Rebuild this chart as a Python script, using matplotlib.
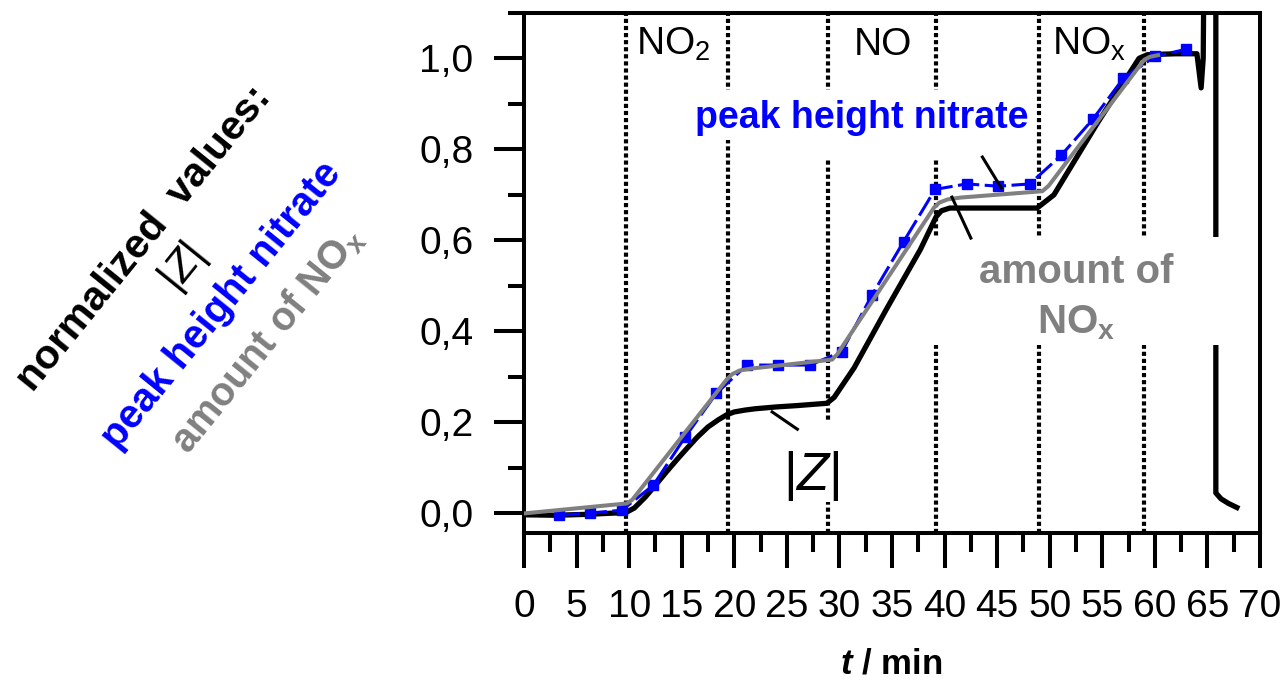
import matplotlib
matplotlib.use("Agg")
import matplotlib.pyplot as plt
from matplotlib.ticker import MultipleLocator, FuncFormatter
from matplotlib.patches import Rectangle

plt.rcParams["font.family"] = "Liberation Sans"
plt.rcParams["mathtext.fontset"] = "custom"
plt.rcParams["mathtext.rm"] = "Liberation Sans"
plt.rcParams["mathtext.it"] = "Liberation Sans:italic"
plt.rcParams["mathtext.bf"] = "Liberation Sans:bold"
plt.rcParams["mathtext.bfit"] = "Liberation Sans:italic:bold"

# --- data -------------------------------------------------------------------
# |Z| (black trace)
z_t = [0, 3, 6, 9.7, 10.5, 11.5, 12.5, 13.5, 14.5, 15.5, 16.5, 17.5, 18.5, 19.3,
       20.0, 21, 22, 24, 26, 28.8, 29.5, 31.4, 34.5, 37.7, 39.2, 39.7, 40.5, 44,
       48.8, 50.4, 54.6, 58.5, 59.3, 62, 64.0, 64.4, 64.6, 64.7, 65.8, 65.8,
       66.3, 67.0, 67.8]
z_v = [-0.003, -0.004, -0.002, 0.002, 0.012, 0.035, 0.062, 0.09, 0.117, 0.143,
       0.168, 0.19, 0.206, 0.217, 0.223, 0.227, 0.23, 0.234, 0.237, 0.242,
       0.255, 0.32, 0.45, 0.58, 0.652, 0.665, 0.671, 0.671, 0.671, 0.70, 0.86,
       1.0, 1.008, 1.01, 1.01, 0.935, 1.0, 1.3, 1.3, 0.045, 0.032, 0.022, 0.013]

# peak height nitrate (blue squares)
nit_t = [3.3, 6.3, 9.3, 12.3, 15.3, 18.3, 21.2, 24.2, 27.2, 30.2, 33.1, 36.1,
         39.1, 42.1, 45.1, 48.1, 51.1, 54.1, 57.0, 60.0, 63.0]
nit_v = [-0.004, 0.001, 0.007, 0.062, 0.167, 0.264, 0.326, 0.326, 0.326, 0.355,
         0.48, 0.597, 0.712, 0.724, 0.719, 0.724, 0.787, 0.866, 0.956, 1.004,
         1.02]

# amount of NOx (grey)
nox_t = [0, 9.8, 10.3, 19.3, 19.8, 20.5, 21.5, 29.3, 29.8, 39.0, 39.5, 40.3,
         41.5, 49.3, 49.9, 59.0, 59.5, 60.3]
nox_v = [0.0, 0.022, 0.03, 0.295, 0.306, 0.314, 0.318, 0.338, 0.35, 0.672,
         0.683, 0.69, 0.694, 0.708, 0.72, 0.997, 1.003, 1.007]

# gas switching times and phase labels
switch_t = [9.7, 19.4, 28.9, 39.2, 49.0, 59.0]
phase_t = [14.2, 34.1, 53.7]
phase_lbl = [r"NO$_\mathregular{2}$", "NO", r"NO$_\mathregular{x}$"]

BLUE = "#0000ff"
GREY = "#808080"

fig = plt.figure(figsize=(12.84, 6.87), dpi=100)
ax = fig.add_axes([524/1284, 1-533/687, 736/1284, (533-12.8)/687])
ax.set_xlim(0, 70)
ax.set_ylim(-0.043, 1.1)

for t in switch_t:
    ax.axvline(t, color="black", lw=3.0, ls=(0, (1.0, 0.7)), zorder=1)

# white label boxes that hide the dotted lines
for (x0, x1, y0, y1) in [(15.8, 48.3, 0.82, 0.93), (22.4, 48.6, 0.78, 0.82),
                         (26.5, 30.5, 0.025, 0.205)]:
    ax.add_patch(Rectangle((x0, y0), x1-x0, y1-y0, facecolor="white",
                           edgecolor="none", zorder=2))

ax.plot(z_t, z_v, color="black", lw=3.8, zorder=3, solid_joinstyle="round")
ax.add_patch(Rectangle((38.9, 0.37), 67.5-38.9, 0.607-0.37, facecolor="white",
                       edgecolor="none", zorder=3.5))
ax.plot(nit_t, nit_v, color=BLUE, lw=2.2, ls=(0, (7, 1.8)), marker="s",
        ms=7.2, mec=BLUE, mfc=BLUE, zorder=4)
ax.plot(nox_t, nox_v, color=GREY, lw=2.9, zorder=5, solid_joinstyle="round")

# pointer lines
for (xa, ya, xb, yb) in [(43.6, 0.783, 45.4, 0.715), (40.7, 0.695, 42.5, 0.605),
                         (23.6, 0.223, 26.0, 0.185)]:
    ax.plot([xa, xb], [ya, yb], color="black", lw=2.2, zorder=6)

for t, s in zip(phase_t, phase_lbl):
    ax.text(t, 1.007, s, fontsize=28, ha="center", va="baseline", zorder=7)

ax.text(32.1, 0.869, "peak height nitrate", color=BLUE, fontsize=27,
        fontweight="bold", ha="center", va="center", zorder=7)
ax.text(52.5, 0.506, "amount of", color=GREY, fontsize=29,
        fontweight="bold", ha="center", va="baseline", zorder=7)
ax.text(52.5, 0.396, r"NO$_\mathregular{x}$", color=GREY, fontsize=29,
        fontweight="bold", ha="center", va="baseline", zorder=7)
ax.text(27.3, 0.082, r"$|Z|$", fontsize=38, ha="center", va="center", zorder=7)

# axes styling
for sp in ax.spines.values():
    sp.set_linewidth(2.9)
ax.xaxis.set_major_locator(MultipleLocator(5))
ax.xaxis.set_minor_locator(MultipleLocator(2.5))
ax.yaxis.set_major_locator(MultipleLocator(0.2))
ax.yaxis.set_minor_locator(MultipleLocator(0.1))
ax.yaxis.set_major_formatter(FuncFormatter(lambda v, p: f"{v:.1f}".replace(".", ",")))
ax.tick_params(axis="x", which="major", direction="out", length=25, width=2.9,
               labelsize=28, pad=15)
ax.tick_params(axis="x", which="minor", direction="out", length=14, width=2.9)
ax.tick_params(axis="y", which="major", direction="out", length=21.5, width=2.9,
               labelsize=28, pad=15)
ax.tick_params(axis="y", which="minor", direction="out", length=11.5, width=2.9)

fig.text(891/1284, 1-674/687, r"$\mathbfit{t}$ / min", fontsize=25,
         fontweight="bold", ha="center", va="baseline")

# rotated y-axis legend block
ROT = 51
left_labels = [
    ("normalized  values:", "black", "bold", 29.5, 144, 238),
    (r"$|Z|$", "black", "normal", 31, 183, 268),
    ("peak height nitrate", BLUE, "bold", 29, 222, 305),
    (r"amount of NO$_\mathregular{x}$", GREY, "bold", 28.5, 267, 340),
]
for s, c, w, fs, px, py in left_labels:
    fig.text(px/1284, 1-py/687, s, color=c, fontsize=fs, fontweight=w,
             rotation=ROT, rotation_mode="anchor", ha="center", va="center")

fig.savefig("out.png", dpi=100)
